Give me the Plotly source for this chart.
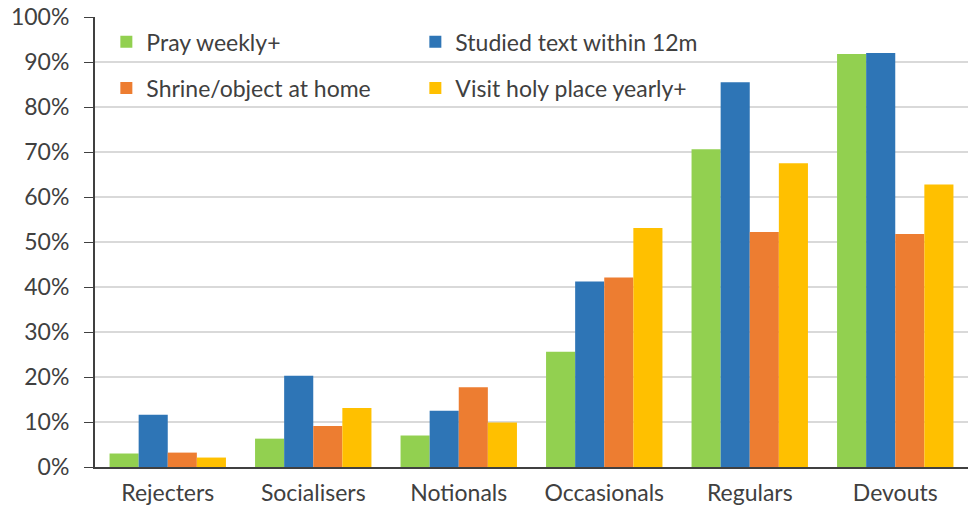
"""Religious practice by segment - grouped bar chart."""

import plotly.graph_objects as go

categories = ['Rejecters', 'Socialisers', 'Notionals', 'Occasionals', 'Regulars', 'Devouts']

pray_weekly = [3.0, 6.3, 7.0, 25.6, 70.6, 91.8]
studied_text = [11.6, 20.3, 12.5, 41.2, 85.5, 92.0]
shrine_home = [3.2, 9.1, 17.7, 42.1, 52.2, 51.8]
visit_holy = [2.1, 13.1, 9.9, 53.1, 67.5, 62.8]

series = [
    ('Pray weekly+', pray_weekly, '#92D050', 'legend'),
    ('Studied text within 12m', studied_text, '#2E75B6', 'legend'),
    ('Shrine/object at home', shrine_home, '#ED7D31', 'legend2'),
    ('Visit holy place yearly+', visit_holy, '#FFC000', 'legend2'),
]

FONT = 'Lato, "Open Sans", sans-serif'
TEXT = '#404040'
SIZE = 23

fig = go.Figure()
for name, vals, color, leg in series:
    fig.add_trace(go.Bar(
        x=categories,
        y=[v / 100 for v in vals],
        name=name,
        marker=dict(color=color, line=dict(width=0)),
        legend=leg,
    ))

legend_style = dict(
    orientation='h',
    xanchor='left',
    yanchor='middle',
    entrywidth=264,
    font=dict(family=FONT, size=SIZE, color=TEXT),
    bgcolor='rgba(0,0,0,0)',
    itemclick=False,
)

fig.update_layout(
    width=968,
    height=508,
    margin=dict(l=95, r=0, t=17, b=41),
    paper_bgcolor='white',
    plot_bgcolor='white',
    barmode='group',
    bargap=0.2,
    bargroupgap=0,
    font=dict(family=FONT, size=SIZE, color=TEXT),
    legend=dict(x=0.013, y=0.945, **legend_style),
    legend2=dict(x=0.013, y=0.842, **legend_style),
)

fig.update_yaxes(
    range=[0, 1],
    dtick=0.1,
    tickformat='.0%',
    showgrid=True,
    gridcolor='#D9D9D9',
    gridwidth=1.5,
    showline=True,
    linecolor='#404040',
    linewidth=2,
    ticks='outside',
    ticklen=9,
    tickcolor='#404040',
    ticklabelstandoff=10,
    tickfont=dict(family=FONT, size=SIZE, color=TEXT),
    zeroline=False,
)
fig.update_xaxes(
    showline=True,
    linecolor='#404040',
    linewidth=2,
    ticks='',
    ticklabelstandoff=4,
    tickfont=dict(family=FONT, size=SIZE, color=TEXT),
)

# drop the default 8px body margin so the figure fills the window exactly
fig.write_html(
    "out.html",
    config={'displayModeBar': False},
    post_script="document.body.style.margin = '0';",
)
